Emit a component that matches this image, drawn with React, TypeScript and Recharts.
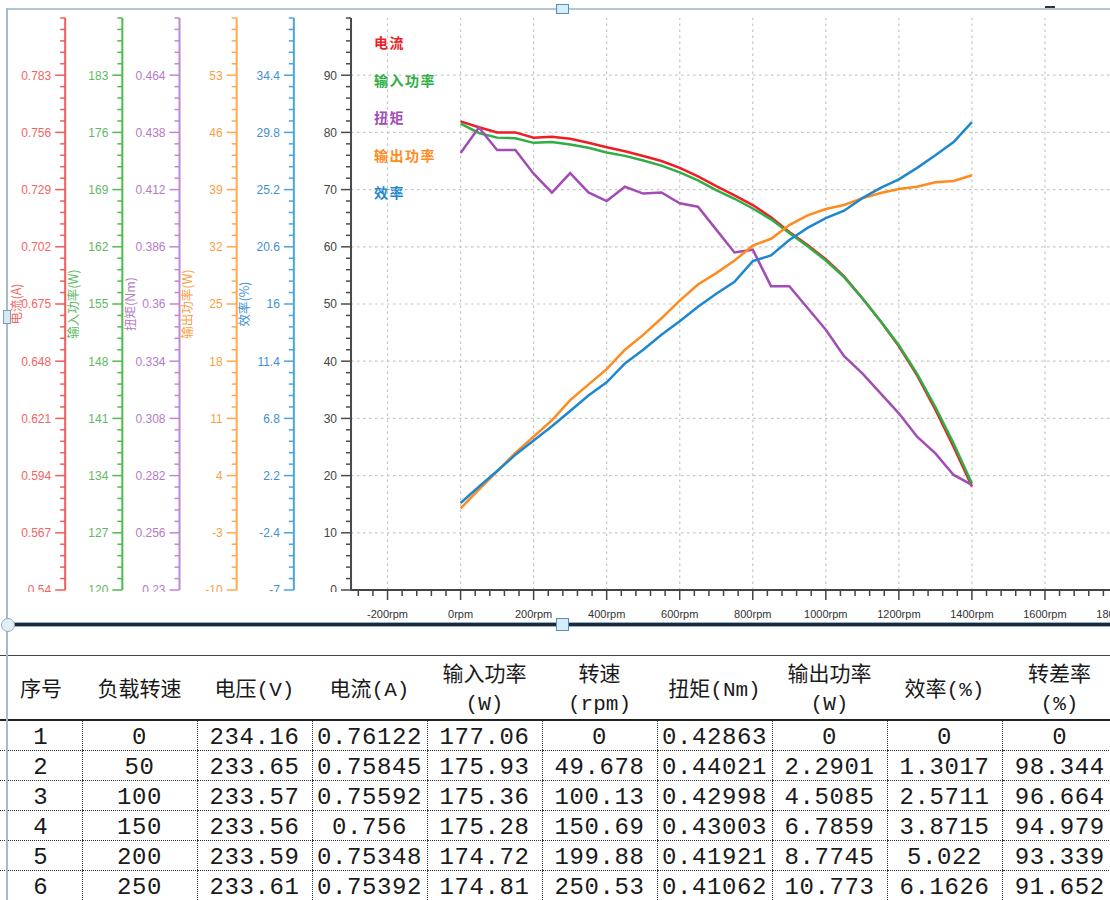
import React from 'react';
import { LineChart, Line, XAxis, YAxis, ReferenceLine, Legend } from 'recharts';

// load speed set points (rpm)
const LOAD_SPEED = [
  0, 50, 100, 150, 200, 250, 300, 350, 400, 450, 500, 550, 600, 650, 700,
  750, 800, 850, 900, 950, 1000, 1050, 1100, 1150, 1200, 1250, 1300, 1350, 1400,
];
const CURRENT = [
  0.76122, 0.75845, 0.75592, 0.756, 0.75348, 0.75392, 0.753, 0.7511, 0.749, 0.7471,
  0.7449, 0.7425, 0.7393, 0.7352, 0.7306, 0.7263, 0.7217, 0.716, 0.709, 0.7028,
  0.6961, 0.688, 0.6777, 0.6669, 0.655, 0.6413, 0.6251, 0.6075, 0.5889,
];
const INPUT_POWER = [
  177.06, 175.93, 175.36, 175.28, 174.72, 174.81, 174.53, 174.11, 173.55, 173.13,
  172.57, 171.94, 171.1, 170.12, 168.93, 167.88, 166.69, 165.36, 163.68, 162.07,
  160.32, 158.29, 155.7, 152.9, 149.96, 146.46, 142.4, 137.92, 133.02,
];
const TORQUE = [
  0.42863, 0.44021, 0.42998, 0.43003, 0.41921, 0.41062, 0.4195, 0.4107, 0.4068, 0.4133,
  0.4102, 0.4107, 0.4058, 0.4042, 0.3938, 0.3834, 0.3847, 0.3681, 0.3681, 0.3582,
  0.3483, 0.3363, 0.3285, 0.3194, 0.3103, 0.2997, 0.2921, 0.2823, 0.2778,
];
const OUTPUT_POWER = [
  0, 2.2901, 4.5085, 6.7859, 8.7745, 10.773, 13.24, 15.13, 17.02, 19.4,
  21.22, 23.25, 25.42, 27.38, 28.78, 30.32, 32.14, 32.98, 34.66, 35.85,
  36.62, 37.11, 37.95, 38.58, 39.07, 39.35, 39.91, 40.05, 40.75,
];
const EFFICIENCY = [
  0, 1.3017, 2.5711, 3.8715, 5.022, 6.1626, 7.4, 8.64, 9.7, 11.22,
  12.32, 13.52, 14.62, 15.77, 16.83, 17.79, 19.45, 19.91, 21.15, 22.12,
  22.9, 23.5, 24.51, 25.34, 26.03, 26.95, 27.96, 29.02, 30.63,
];

// extra columns only shown in the table
const VOLTAGE = [234.16, 233.65, 233.57, 233.56, 233.59, 233.61];
const ACTUAL_SPEED = [0, 49.678, 100.13, 150.69, 199.88, 250.53];
const SLIP = [0, 98.344, 96.664, 94.979, 93.339, 91.652];

// tick labels
const X_LABELS = [-200, 0, 200, 400, 600, 800, 1000, 1200, 1400, 1600, 1800];
const MAIN_LABELS = [0, 10, 20, 30, 40, 50, 60, 70, 80, 90];
const CURRENT_LABELS = [0.54, 0.567, 0.594, 0.621, 0.648, 0.675, 0.702, 0.729, 0.756, 0.783];
const INPUT_LABELS = [120, 127, 134, 141, 148, 155, 162, 169, 176, 183];
const TORQUE_LABELS = [0.23, 0.256, 0.282, 0.308, 0.334, 0.36, 0.386, 0.412, 0.438, 0.464];
const OUTPUT_LABELS = [-10, -3, 4, 11, 18, 25, 32, 39, 46, 53];
const EFF_LABELS = [-7, -2.4, 2.2, 6.8, 11.4, 16, 20.6, 25.2, 29.8, 34.4];

const HEADERS = ['序号', '负载转速', '电压(V)', '电流(A)', '输入功率\n(W)', '转速\n(rpm)', '扭矩(Nm)', '输出功率\n(W)', '效率(%)', '转差率\n(%)'];

const SANS = "'Liberation Sans', 'Noto Sans CJK SC', sans-serif";
const CJK = "'Noto Sans CJK SC', sans-serif";
const MONO = "'Liberation Mono', 'Noto Sans CJK SC', monospace";

const data = LOAD_SPEED.map((speed, i) => ({
  speed,
  current: CURRENT[i],
  input: INPUT_POWER[i],
  torque: TORQUE[i],
  output: OUTPUT_POWER[i],
  eff: EFFICIENCY[i],
}));

type AxisDef = { id: string; labels: number[]; axis: string; text: string; title?: string };

// left axes are stacked by id: y0 sits next to the plot, y5 is outermost
const AXES: AxisDef[] = [
  { id: 'y0', labels: MAIN_LABELS, axis: '#4a4a4a', text: '#444' },
  { id: 'y1', labels: EFF_LABELS, axis: '#4aa6de', text: '#3f8fd2', title: '效率(%)' },
  { id: 'y2', labels: OUTPUT_LABELS, axis: '#ffa84f', text: '#f89f45', title: '输出功率(W)' },
  { id: 'y3', labels: TORQUE_LABELS, axis: '#c386d0', text: '#b47cc6', title: '扭矩(Nm)' },
  { id: 'y4', labels: INPUT_LABELS, axis: '#4cbc4c', text: '#62b962', title: '输入功率(W)' },
  { id: 'y5', labels: CURRENT_LABELS, axis: '#f55b5b', text: '#f36464', title: '电流(A)' },
];

const SERIES = [
  { key: 'current', name: '电流', axis: 'y5', color: '#ee1d26' },
  { key: 'input', name: '输入功率', axis: 'y4', color: '#2fae45' },
  { key: 'torque', name: '扭矩', axis: 'y3', color: '#a24cb5' },
  { key: 'output', name: '输出功率', axis: 'y2', color: '#ff8b1f' },
  { key: 'eff', name: '效率', axis: 'y1', color: '#1f87cf' },
];

const stepOf = (labels: number[]) => labels[1] - labels[0];
const domainOf = (labels: number[]): [number, number] => [
  labels[0],
  +(labels[0] + labels.length * stepOf(labels)).toFixed(6),
];
// five minor divisions per labelled step
const ticksOf = (labels: number[]) => {
  const out: number[] = [];
  for (let k = 0; k <= labels.length * 5; k++) out.push(+(labels[0] + (k * stepOf(labels)) / 5).toFixed(6));
  return out;
};

const X_TICKS = (() => {
  const out: number[] = [];
  for (let v = -280; v <= 1800; v += 40) out.push(v);
  return out;
})();

const yTick = (a: AxisDef) => (p: any) => {
  const v = p.payload.value;
  const major = a.labels.find((m) => Math.abs(m - v) < stepOf(a.labels) / 100);
  const len = major !== undefined ? 10 : 5;
  return (
    <g>
      <line x1={p.x - len} x2={p.x} y1={p.y} y2={p.y} stroke={a.axis} strokeWidth={1.5} />
      {major !== undefined && (
        <text
          x={p.x - 14}
          y={p.y}
          dy="0.36em"
          textAnchor="end"
          fontSize={12}
          fontFamily={SANS}
          fill={a.text}
          clipPath="url(#leftTickClip)"
        >
          {String(major)}
        </text>
      )}
    </g>
  );
};

const xTick = (p: any) => {
  const v = p.payload.value;
  const major = X_LABELS.includes(v);
  return (
    <g>
      <line x1={p.x} x2={p.x} y1={p.y} y2={p.y + (major ? 10 : 6)} stroke="#444" strokeWidth={1.5} />
      {major && (
        <text x={p.x} y={p.y + 24} dy="0.36em" textAnchor="middle" fontSize={11} fontFamily={SANS} fill="#333">
          {`${v}rpm`}
        </text>
      )}
    </g>
  );
};

const AxisTitle = ({ viewBox, text, color }: any) => {
  if (!viewBox) return null;
  const cx = viewBox.x + viewBox.width - 49;
  const cy = viewBox.y + viewBox.height / 2;
  return (
    <text
      x={cx}
      y={cy}
      transform={`rotate(-90 ${cx} ${cy})`}
      textAnchor="middle"
      dy="0.36em"
      fontSize={12.5}
      fontFamily={CJK}
      fill={color}
    >
      {text}
    </text>
  );
};

// legend rows follow the series order
const LegendList = () => (
  <div>
    {SERIES.map((s) => (
      <div
        key={s.key}
        style={{ height: 37.5, lineHeight: '37.5px', color: s.color, fontWeight: 700, fontSize: 14, letterSpacing: 1.5, fontFamily: CJK }}
      >
        {s.name}
      </div>
    ))}
  </div>
);

const tableRows = VOLTAGE.map((v, i) => [
  i + 1,
  LOAD_SPEED[i],
  v,
  CURRENT[i],
  INPUT_POWER[i],
  ACTUAL_SPEED[i],
  TORQUE[i],
  OUTPUT_POWER[i],
  EFFICIENCY[i],
  SLIP[i],
]);

const box = (style: React.CSSProperties) => <div style={{ position: 'absolute', ...style }} />;

export default function App() {
  return (
    <div style={{ position: 'fixed', left: 0, top: 0, width: 1110, height: 900, overflow: 'hidden', background: '#fff', fontFamily: SANS }}>
      <div style={{ position: 'absolute', left: 0, top: 0 }}>
        <LineChart width={1118} height={640} data={data} margin={{ top: 18, right: 0, bottom: 10, left: 8 }}>
          <defs>
            <clipPath id="leftTickClip">
              <rect x={0} y={0} width={351} height={592} />
            </clipPath>
          </defs>
          <XAxis
            dataKey="speed"
            type="number"
            domain={[-300, 1800]}
            ticks={X_TICKS}
            interval={0}
            height={40}
            tickSize={0}
            tickMargin={0}
            tickLine={false}
            axisLine={{ stroke: '#444', strokeWidth: 2 }}
            tick={xTick}
            allowDataOverflow
          />
          {AXES.map((a) => (
            <YAxis
              key={a.id}
              yAxisId={a.id}
              orientation="left"
              type="number"
              width={57.17}
              domain={domainOf(a.labels)}
              ticks={ticksOf(a.labels)}
              interval={0}
              tickSize={0}
              tickMargin={0}
              tickLine={false}
              axisLine={{ stroke: a.axis, strokeWidth: 2 }}
              tick={yTick(a)}
              allowDataOverflow
              label={a.title ? <AxisTitle text={a.title} color={a.text} /> : undefined}
            />
          ))}
          {MAIN_LABELS.slice(1).map((v) => (
            <ReferenceLine key={`h${v}`} yAxisId="y0" y={v} stroke="#c6c6c6" strokeWidth={1.2} strokeDasharray="2.5 3.5" />
          ))}
          {X_LABELS.map((v) => (
            <ReferenceLine key={`v${v}`} yAxisId="y0" x={v} stroke="#c6c6c6" strokeWidth={1.2} strokeDasharray="2.5 3.5" />
          ))}
          {SERIES.map((s) => (
            <Line
              key={s.key}
              yAxisId={s.axis}
              dataKey={s.key}
              name={s.name}
              type="linear"
              stroke={s.color}
              strokeWidth={2.5}
              dot={false}
              isAnimationActive={false}
            />
          ))}
          <Legend
            layout="vertical"
            align="center"
            verticalAlign="middle"
            wrapperStyle={{ left: 374, top: 24, width: 120 }}
            content={LegendList}
          />
        </LineChart>
      </div>

      <table
        style={{ position: 'absolute', left: 0, top: 655, width: 1117, borderCollapse: 'collapse', tableLayout: 'fixed', color: '#1a1a1a' }}
      >
        <colgroup>
          <col style={{ width: 82 }} />
          {HEADERS.slice(1).map((h) => (
            <col key={h} style={{ width: 115 }} />
          ))}
        </colgroup>
        <thead>
          <tr style={{ height: 63 }}>
            {HEADERS.map((h) => (
              <th
                key={h}
                style={{
                  borderTop: '1px solid #444',
                  borderBottom: '2px solid #222',
                  fontWeight: 400,
                  padding: '5px 0 0',
                  lineHeight: '29px',
                  fontSize: 21,
                  fontFamily: MONO,
                  whiteSpace: 'pre',
                }}
              >
                {h}
              </th>
            ))}
          </tr>
        </thead>
        <tbody>
          {tableRows.map((r, ri) => (
            <tr key={ri} style={{ height: 30 }}>
              {r.map((c, ci) => (
                <td
                  key={ci}
                  style={{
                    borderBottom: '1px dotted #333',
                    borderLeft: ci > 0 ? '1px dotted #333' : 'none',
                    textAlign: 'center',
                    padding: '4px 0 0',
                    lineHeight: '25px',
                    fontSize: 24,
                    fontFamily: MONO,
                    letterSpacing: 0.6,
                  }}
                >
                  {String(c)}
                </td>
              ))}
            </tr>
          ))}
        </tbody>
      </table>

      {/* window frame and splitter */}
      {box({ left: 7, top: 8, width: 1103, height: 2, background: '#b3c5d8' })}
      {box({ left: 6, top: 8, width: 2, height: 892, background: '#a7bace' })}
      {box({ left: 7, top: 623, width: 1103, height: 3, background: '#1d2936', boxShadow: '0 -1px 0 #8fb0cc, 0 1px 0 #8fb0cc' })}
      {box({ left: 556, top: 618, width: 11, height: 11, background: '#d4eef9', border: '1px solid #5b8db5' })}
      {box({ left: 556, top: 4, width: 11, height: 8, background: '#d4eef9', border: '1px solid #5b8db5' })}
      {box({ left: 1, top: 618, width: 12, height: 12, borderRadius: '50%', background: '#e3edf4', border: '1px solid #93abc0' })}
      {box({ left: 3, top: 310, width: 6, height: 12, background: '#dbe8f2', border: '1px solid #7f9cb6' })}
      {box({ left: 1045, top: 6, width: 10, height: 2, background: '#333' })}
    </div>
  );
}
